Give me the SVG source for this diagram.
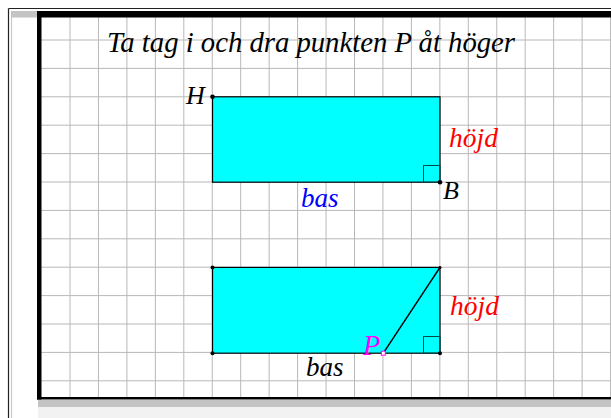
<svg xmlns="http://www.w3.org/2000/svg" width="611" height="418" viewBox="0 0 611 418">
<defs>
<style>
.grid line{stroke:#b8b8b8;stroke-width:1}
.rect{fill:#00ffff;stroke:#000;stroke-width:1.2}
.ra{fill:none;stroke:#004848;stroke-width:1}
.dot{fill:#000}
</style>
</defs>
<rect x="0" y="0" width="611" height="418" fill="#fff"/>
<g id="frame">
<line x1="8.5" y1="8.5" x2="611" y2="8.5" stroke="#222" stroke-width="1.2"/>
<line x1="8.5" y1="8.5" x2="8.5" y2="418" stroke="#222" stroke-width="1.2"/>
<rect x="11" y="11" width="26" height="6.5" fill="#c4c4c4"/>
<line x1="11.5" y1="17" x2="11.5" y2="418" stroke="#c8c8c8" stroke-width="1.2"/>
<rect x="38" y="400" width="573" height="7" fill="#c4c4c4"/>
<rect x="38" y="407" width="573" height="11" fill="#f2f2f2"/>
</g>
<g class="grid" id="grid">
<line x1="70" y1="17" x2="70" y2="398"/><line x1="98.45" y1="17" x2="98.45" y2="398"/><line x1="126.9" y1="17" x2="126.9" y2="398"/><line x1="155.35" y1="17" x2="155.35" y2="398"/><line x1="183.8" y1="17" x2="183.8" y2="398"/><line x1="212.25" y1="17" x2="212.25" y2="398"/><line x1="240.7" y1="17" x2="240.7" y2="398"/><line x1="269.15" y1="17" x2="269.15" y2="398"/><line x1="297.6" y1="17" x2="297.6" y2="398"/><line x1="326.05" y1="17" x2="326.05" y2="398"/><line x1="354.5" y1="17" x2="354.5" y2="398"/><line x1="382.95" y1="17" x2="382.95" y2="398"/><line x1="411.4" y1="17" x2="411.4" y2="398"/><line x1="439.85" y1="17" x2="439.85" y2="398"/><line x1="468.3" y1="17" x2="468.3" y2="398"/><line x1="496.75" y1="17" x2="496.75" y2="398"/><line x1="525.2" y1="17" x2="525.2" y2="398"/><line x1="553.65" y1="17" x2="553.65" y2="398"/><line x1="582.1" y1="17" x2="582.1" y2="398"/><line x1="610.55" y1="17" x2="610.55" y2="398"/>
<line x1="41" y1="40" x2="611" y2="40"/><line x1="41" y1="68.4" x2="611" y2="68.4"/><line x1="41" y1="96.8" x2="611" y2="96.8"/><line x1="41" y1="125.2" x2="611" y2="125.2"/><line x1="41" y1="153.6" x2="611" y2="153.6"/><line x1="41" y1="182" x2="611" y2="182"/><line x1="41" y1="210.4" x2="611" y2="210.4"/><line x1="41" y1="238.8" x2="611" y2="238.8"/><line x1="41" y1="267.2" x2="611" y2="267.2"/><line x1="41" y1="295.6" x2="611" y2="295.6"/><line x1="41" y1="324" x2="611" y2="324"/><line x1="41" y1="352.4" x2="611" y2="352.4"/><line x1="41" y1="380.8" x2="611" y2="380.8"/>
</g>
<g id="border">
<rect x="37" y="11" width="574" height="6.5" fill="#000"/>
<rect x="37" y="11" width="4.5" height="388.5" fill="#000"/>
<rect x="37" y="397" width="574" height="2.5" fill="#000"/>
</g>
<g font-family="'Liberation Serif', 'Times New Roman', serif" font-style="italic">
<text x="107" y="52" font-size="28.5" fill="#000" textLength="408" lengthAdjust="spacingAndGlyphs">Ta tag i och dra punkten P åt höger</text>
<g id="rect-top">
<rect class="rect" x="212.5" y="96.8" width="227.5" height="85.4"/>
<rect class="ra" x="423.5" y="165.5" width="16.5" height="16.7"/>
</g>
<g id="rect-bottom">
<rect class="rect" x="212.5" y="267.4" width="227.5" height="85.8"/>
<rect class="ra" x="423.5" y="336.5" width="16.5" height="16.7"/>
</g>
<g id="connectors">
<line x1="383.3" y1="353.2" x2="440" y2="267.4" stroke="#000" stroke-width="1.5"/>
</g>
<g id="point-H"><circle class="dot" cx="212.5" cy="96.8" r="2.3"/><text x="186" y="103.5" font-size="26" fill="#000">H</text></g>
<g id="point-B"><circle class="dot" cx="440" cy="182.2" r="2.3"/><text x="443" y="198.5" font-size="26" fill="#000">B</text></g>
<g id="label-bas-top"><text x="301" y="207" font-size="27" fill="#0000ff">bas</text></g>
<g id="label-hojd-top"><text x="449" y="146.5" font-size="27.5" fill="#ff0000">höjd</text></g>
<g id="corners-bottom">
<circle class="dot" cx="212.5" cy="267.4" r="2"/>
<circle class="dot" cx="212.5" cy="353.2" r="2"/>
<circle class="dot" cx="440" cy="353.2" r="2"/>
<circle class="dot" cx="440" cy="267.4" r="1.5"/>
</g>
<g id="point-P"><text x="363" y="354.5" font-size="28.5" fill="#ff00ff">P</text><rect x="381.3" y="351.2" width="4" height="4" fill="#fff" stroke="#ff00ff" stroke-width="1"/></g>
<g id="label-bas-bottom"><text x="306" y="375.5" font-size="27" fill="#000">bas</text></g>
<g id="label-hojd-bottom"><text x="450" y="314.5" font-size="27.5" fill="#ff0000">höjd</text></g>
</g>
</svg>
